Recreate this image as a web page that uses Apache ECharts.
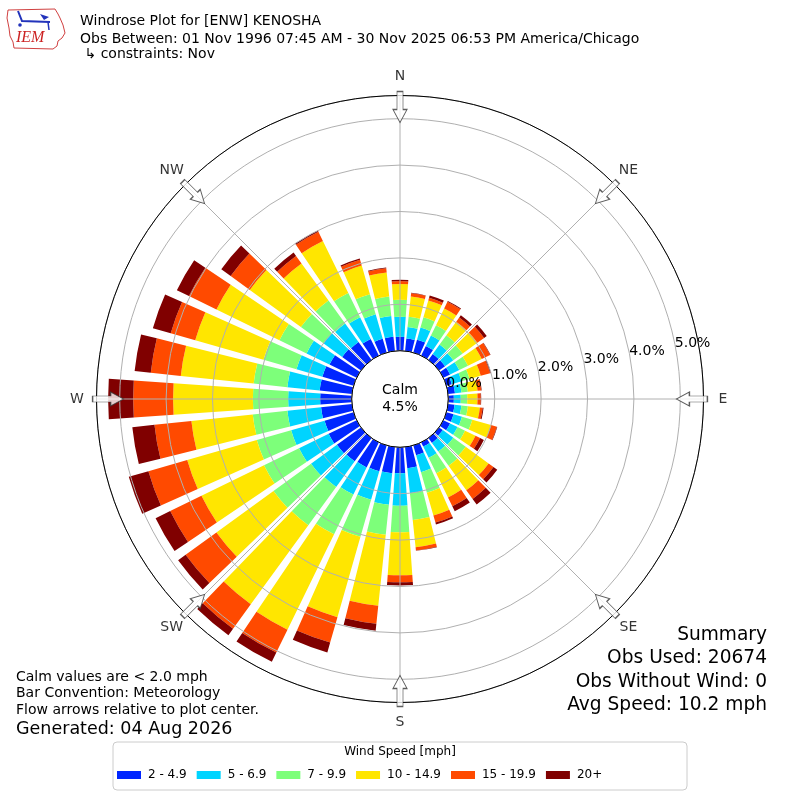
<!DOCTYPE html>
<html>
<head>
<meta charset="utf-8">
<script src="https://cdn.jsdelivr.net/npm/echarts@6/dist/echarts.min.js"></script>
<style>
html,body{margin:0;padding:0;background:#ffffff;}
#chart{width:800px;height:800px;}
</style>
</head>
<body>
<div id="chart"></div>
<script>
// ---------------- data ----------------
const directions = ['0','10','20','30','40','50','60','70','80','90','100','110','120','130','140','150','160','170',
                    '180','190','200','210','220','230','240','250','260','270','280','290','300','310','320','330','340','350'];
const speedBins = ['2 - 4.9','5 - 6.9','7 - 9.9','10 - 14.9','15 - 19.9','20+'];
// percent of observations per direction (non cumulative) for each speed bin
const speed2to5   = [0.30,0.27,0.29,0.23,0.16,0.16,0.16,0.12,0.15,0.12,0.14,0.16,0.16,0.10,0.13,0.10,0.22,0.46,0.56,0.57,0.58,0.60,0.62,0.64,0.67,0.65,0.67,0.68,0.70,0.70,0.65,0.50,0.48,0.40,0.31,0.31];
const speed5to7   = [0.43,0.25,0.27,0.25,0.25,0.22,0.22,0.22,0.14,0.15,0.15,0.19,0.18,0.28,0.23,0.27,0.38,0.54,0.70,0.68,0.64,0.65,0.68,0.69,0.71,0.75,0.73,0.69,0.70,0.58,0.55,0.50,0.49,0.52,0.55,0.45];
const speed7to10  = [0.37,0.22,0.23,0.25,0.25,0.25,0.21,0.18,0.14,0.14,0.14,0.23,0.18,0.33,0.38,0.37,0.46,0.58,0.57,0.65,0.83,0.95,1.02,1.00,0.84,0.77,0.75,0.76,0.73,0.74,0.65,0.60,0.61,0.58,0.45,0.42];
const speed10to15 = [0.34,0.44,0.38,0.40,0.36,0.39,0.33,0.25,0.21,0.22,0.26,0.42,0.25,0.61,0.65,0.58,0.51,0.59,0.93,1.54,1.80,2.29,2.11,1.52,1.50,1.56,1.33,1.72,1.58,1.53,1.51,1.36,0.99,1.25,0.64,0.52];
const speed15to20 = [0.06,0.07,0.06,0.16,0.11,0.18,0.20,0.21,0.08,0.07,0.06,0.13,0.11,0.13,0.23,0.21,0.16,0.07,0.15,0.39,0.57,0.55,0.65,0.82,0.75,0.87,0.80,0.86,0.65,0.55,0.66,0.51,0.20,0.22,0.13,0.09];
const speed20plus = [0.03,0.01,0.05,0.02,0.06,0.07,0.01,0.02,0.01,0.01,0.02,0.01,0.09,0.10,0.15,0.12,0.04,0.01,0.07,0.15,0.22,0.22,0.17,0.20,0.35,0.44,0.48,0.54,0.35,0.40,0.29,0.25,0.09,0.03,0.03,0.02];
const compassAngles = [0,45,90,135,180,225,270,315];
const compassLabels = ['N','NE','E','SE','S','SW','W','NW'];
const radialTicks = [0,1,2,3,4,5];
const radialMax = 5.5;
const calmPercent = 4.5;

// ---------------- styles ----------------
const FONT = 'DejaVu Sans';
const colors = ['#0026ff','#00d4ff','#7dff7a','#ffe600','#ff4a00','#800000'];
const binValues = [speed2to5, speed5to7, speed7to10, speed10to15, speed15to20, speed20plus];
const CENTER = [400, 399];
const RADIUS = [48.3, 303.5];
const arrowRadius = 5.25;
const compassLabelRadius = 5.92;

const chart = echarts.init(document.getElementById('chart'), null, {renderer: 'canvas'});

function txt(text, x, y, size, align, extra) {
  return Object.assign({
    type: 'text', x: x, y: y, silent: true,
    style: {text: text, font: size + 'px "' + FONT + '"', fill: '#000', align: align || 'left', verticalAlign: 'middle'}
  }, extra || {});
}

const barSeries = speedBins.map((name, i) => ({
  type: 'bar', name: name, coordinateSystem: 'polar', polarIndex: 0, stack: 'wind',
  data: binValues[i], barCategoryGap: '20%', itemStyle: {color: colors[i]}, z: 2, silent: true
}));

const option = {
  backgroundColor: '#ffffff',
  animation: false,
  textStyle: {fontFamily: FONT},
  polar: [
    {center: CENTER, radius: RADIUS},
    {center: CENTER, radius: RADIUS},
    {center: CENTER, radius: RADIUS}
  ],
  angleAxis: [
    {polarIndex: 0, type: 'category', data: directions, startAngle: 95, clockwise: true, boundaryGap: true,
     axisLine: {show: false}, axisTick: {show: false}, axisLabel: {show: false}, splitLine: {show: false}, z: 1},
    {polarIndex: 1, type: 'value', min: 0, max: 360, interval: 45, startAngle: 90, clockwise: true,
     axisLine: {show: true, lineStyle: {color: '#000', width: 1}},
     axisTick: {show: false},
     axisLabel: {show: false},
     splitLine: {show: true, lineStyle: {color: '#b0b0b0', width: 1}}, z: 6},
    {polarIndex: 2, type: 'value', min: 0, max: 360, startAngle: 10, clockwise: true,
     axisLine: {show: false}, axisTick: {show: false}, axisLabel: {show: false}, splitLine: {show: false}}
  ],
  radiusAxis: [
    {polarIndex: 0, min: 0, max: radialMax, show: false},
    {polarIndex: 1, min: 0, max: radialMax, show: false},
    {polarIndex: 2, min: 0, max: radialMax, interval: 1,
     axisLine: {show: false}, axisTick: {show: false},
     splitLine: {show: true, lineStyle: {color: '#b0b0b0', width: 1}},
     axisLabel: {margin: 7, align: 'left', verticalAlign: 'middle', fontSize: 14, color: '#000', fontFamily: FONT,
       showMaxLabel: false,
       formatter: function (v) { return radialTicks.indexOf(v) >= 0 ? v.toFixed(1) + '%' : ''; }},
     z: 5}
  ],
  legend: {
    data: speedBins, left: 117, top: 769, orient: 'horizontal', icon: 'rect',
    itemWidth: 24, itemHeight: 8, itemGap: 10, padding: 0, selectedMode: false,
    textStyle: {fontSize: 12, fontFamily: FONT, color: '#000', padding: [0, 0, 0, 2]}
  },
  series: barSeries.concat([{
    type: 'scatter', coordinateSystem: 'polar', polarIndex: 1,
    data: compassAngles.map(a => [arrowRadius, a]),
    symbol: 'path://M4,0 L10,0 L10,18 L14,18 L7,31 L0,18 L4,18 Z',
    symbolSize: [14, 31],
    symbolRotate: function (val) { return -val[1]; },
    itemStyle: {color: '#ffffff', borderColor: '#333333', borderWidth: 1},
    z: 10, silent: true
  }, {
    type: 'scatter', coordinateSystem: 'polar', polarIndex: 1, clip: false,
    data: compassAngles.map(a => [compassLabelRadius, a]),
    symbolSize: 0, silent: true, z: 10,
    label: {show: true, position: 'inside', fontSize: 14, fontFamily: FONT, color: '#000',
      formatter: function (p) { return compassLabels[p.dataIndex]; }}
  }]),
  graphic: [
    // IEM logo
    {type: 'polyline', silent: true, shape: {points: [[8,10],[55,9],[58,14],[60,18],[63,25],[65,33],[62,38],[58,41],[57,46],[53,49],[14,48],[13,42],[10,36],[9,28],[7,18],[8,10]]},
     style: {stroke: '#d04040', lineWidth: 1, fill: null}},
    {type: 'polyline', silent: true, shape: {points: [[18,11],[22,21],[50,22]]}, style: {stroke: '#2233bb', lineWidth: 2, fill: null}},
    {type: 'polygon', silent: true, shape: {points: [[40,14],[49,17],[44,20]]}, style: {fill: '#2233bb'}},
    {type: 'circle', silent: true, shape: {cx: 20, cy: 25, r: 1.8}, style: {fill: '#2233bb'}},
    {type: 'polyline', silent: true, shape: {points: [[48,22],[49,30]]}, style: {stroke: '#2233bb', lineWidth: 1.5, fill: null}},
    {type: 'text', silent: true, x: 16, y: 38, style: {text: 'IEM', font: 'italic 16px "Liberation Serif"', fill: '#cc2222', align: 'left', verticalAlign: 'middle'}},
    // titles
    txt('Windrose Plot for [ENW] KENOSHA', 80, 21, 14),
    txt('Obs Between: 01 Nov 1996 07:45 AM - 30 Nov 2025 06:53 PM America/Chicago', 80, 39.5, 14),
    txt(' \u21b3 constraints: Nov', 80, 54, 14),
    // calm
    txt('Calm', 400, 390, 14, 'center', {z: 20}),
    txt(calmPercent.toFixed(1) + '%', 400, 407, 14, 'center', {z: 20}),
    // bottom-left notes
    txt('Calm values are < 2.0 mph', 16, 677, 14),
    txt('Bar Convention: Meteorology', 16, 693.5, 14),
    txt('Flow arrows relative to plot center.', 16, 710, 14),
    txt('Generated: 04 Aug 2026', 16, 729, 17.5),
    // summary
    txt('Summary', 767, 635, 18.6, 'right'),
    txt('Obs Used: 20674', 767, 658.5, 18.6, 'right'),
    txt('Obs Without Wind: 0', 767, 682, 18.6, 'right'),
    txt('Avg Speed: 10.2 mph', 767, 705.5, 18.6, 'right'),
    // legend frame and title
    {type: 'rect', silent: true, z: -1, shape: {x: 113, y: 742, width: 574, height: 48, r: 4},
     style: {fill: '#ffffff', stroke: '#cccccc', lineWidth: 1}},
    txt('Wind Speed [mph]', 400, 752, 12, 'center')
  ]
};
chart.setOption(option);
</script>
</body>
</html>
